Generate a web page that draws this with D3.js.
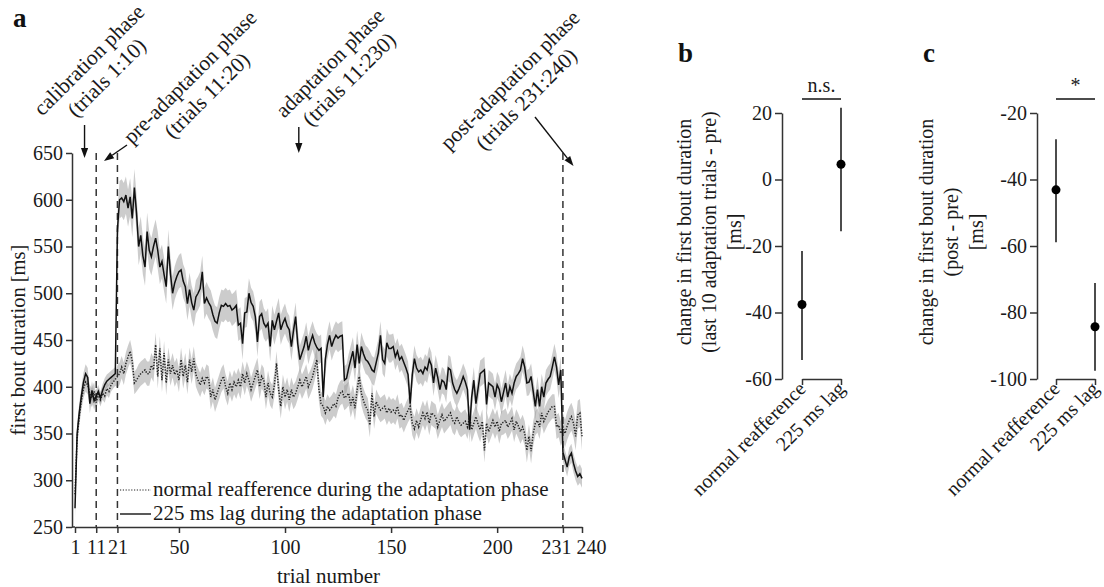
<!DOCTYPE html>
<html><head><meta charset="utf-8">
<script src="https://cdn.jsdelivr.net/npm/d3@7"></script>
<style>
body{margin:0;background:#fff;}
svg text{font-family:"Liberation Serif","Times New Roman",serif;}
</style></head><body>
<svg id="chart" width="1104" height="587"></svg>
<script>
// ---------------- DATA ----------------
const trialNumbers = d3.range(1, 241);
const solidMean = [
270,350,372,390,405,414,410,382,396,385,
390,395,388,396,402,406,408,410,412,414,
568,600,602,598,605,591,603,580,613,586,
550,562,540,528,566,546,539,550,559,546,
528,534,520,507,550,521,500,511,518,523,
525,513,507,489,504,490,482,496,500,505,
523,489,495,490,486,477,470,468,479,487,
486,489,486,487,482,484,487,466,468,446,
479,480,500,490,486,475,448,475,478,468,
464,468,443,471,461,470,479,461,468,473,
465,461,443,460,475,446,429,436,443,454,
439,448,455,447,442,439,441,389,429,445,
455,443,450,455,452,454,455,407,409,420,
429,438,420,445,425,443,435,429,427,423,
418,416,426,436,455,429,425,447,441,441,
443,432,438,429,432,426,420,413,382,413,
430,420,416,418,414,421,418,429,423,404,
420,410,397,407,405,397,420,418,404,397,
393,398,404,411,405,397,354,389,407,382,
398,414,416,418,381,404,402,400,389,402,
397,384,394,404,389,400,393,404,411,414,
418,430,421,404,405,411,395,379,397,379,
400,389,404,408,411,421,432,421,402,418,
330,322,314,325,329,318,310,304,307,302];
const dottedMean = [
285,345,368,385,398,405,402,392,388,395,
383,392,386,393,390,398,395,402,405,408,
411,414,421,414,425,432,438,427,404,407,
411,414,416,418,414,414,423,418,445,411,
441,407,436,404,429,414,423,413,418,407,
429,411,423,405,429,416,430,413,407,402,
409,404,411,409,389,397,386,393,400,407,
411,400,393,404,397,405,400,407,400,414,
404,414,407,397,404,411,418,400,411,407,
389,404,393,389,402,425,397,379,400,389,
397,386,397,389,393,400,407,400,405,411,
400,405,411,420,429,397,382,379,372,379,
375,378,382,379,388,393,395,388,390,393,
380,389,377,397,411,393,385,379,375,359,
393,368,384,379,375,377,379,372,377,373,
375,372,379,368,370,364,370,375,379,361,
355,364,357,365,372,366,373,361,372,370,
368,357,364,370,363,366,369,372,364,361,
368,362,359,361,363,357,368,354,361,368,
360,354,363,332,361,352,358,364,357,363,
352,361,362,364,357,361,366,354,363,358,
352,357,350,332,347,331,350,361,364,357,
372,363,368,373,376,379,379,357,359,350,
357,350,358,364,368,361,347,370,372,347];
// standard error read per block of 10 trials
const solidSemBlock  = [10,7,20,20,18,18,17,17,16,16,15,15,15,15,15,14,14,14,14,14,14,14,14,10];
const dottedSemBlock = [10,7,12,13,13,13,13,13,13,13,13,13,13,13,13,13,13,13,13,13,13,13,13,15];

const xTickValues = [1, 11, 21, 50, 100, 150, 200, 231, 240];
const yTickValues = [250, 300, 350, 400, 450, 500, 550, 600, 650];
const phaseBoundaries = [11, 21, 231];
const phaseNames  = ["calibration phase", "pre-adaptation phase", "adaptation phase", "post-adaptation phase"];
const phaseRanges = ["(trials 1:10)", "(trials 11:20)", "(trials 11:230)", "(trials 231:240)"];
const legendLabels = ["normal reafference during the adaptation phase", "225 ms lag during the adaptation phase"];

const categories = ["normal reafference", "225 ms lag"];
const bMean = [-37.6, 4.6];
const bLow  = [-54.3, -15.6];
const bHigh = [-21.5, 21.6];
const bTicks = [-60, -40, -20, 0, 20];
const bLabel = ["change in first bout duration", "(last 10 adaptation trials - pre)", "[ms]"];
const bSig = "n.s.";
const cMean = [-43.1, -84.3];
const cLow  = [-58.9, -97.5];
const cHigh = [-27.9, -71.1];
const cTicks = [-100, -80, -60, -40, -20];
const cLabel = ["change in first bout duration", "(post - pre)", "[ms]"];
const cSig = "*";

// ---------------- DRAW ----------------
const FONT = '"Liberation Serif","Times New Roman",serif';
const AX = "#333", TXT = "#1a1a1a", FS = 20, FS_BIG = 21.5;
const svg = d3.select("#chart");

function styleAxis(g) {
  g.attr("font-family", FONT).attr("font-size", FS);
  g.selectAll("path.domain, .tick line").attr("stroke", AX).attr("stroke-width", 1.5);
  g.selectAll(".tick text").attr("fill", TXT);
}
function arrow(g, x1, y1, x2, y2) {
  const a = Math.atan2(y2 - y1, x2 - x1), L = 10, W = 3.6;
  const bx = x2 - L * Math.cos(a), by = y2 - L * Math.sin(a);
  g.append("line").attr("x1", x1).attr("y1", y1).attr("x2", bx).attr("y2", by)
    .attr("stroke", "#111").attr("stroke-width", 1.4);
  g.append("path").attr("d", `M${x2},${y2}L${bx - W*Math.sin(a)},${by + W*Math.cos(a)}L${bx + W*Math.sin(a)},${by - W*Math.cos(a)}Z`)
    .attr("fill", "#111");
}

// ---- panel a ----
const gA = svg.append("g");
const x = d3.scaleLinear().domain([1, 240]).range([75, 582]);
const y = d3.scaleLinear().domain([250, 650]).range([527, 153]);

const solid  = trialNumbers.map((t, i) => ({t, m: solidMean[i],  s: solidSemBlock[Math.floor(i / 10)]}));
const dotted = trialNumbers.map((t, i) => ({t, m: dottedMean[i], s: dottedSemBlock[Math.floor(i / 10)]}));
const area = d3.area().x(d => x(d.t)).y0(d => y(d.m - d.s)).y1(d => y(d.m + d.s));
const line = d3.line().x(d => x(d.t)).y(d => y(d.m));

gA.append("path").datum(dotted).attr("d", area).attr("fill", "#999").attr("fill-opacity", 0.5);
gA.append("path").datum(solid).attr("d", area).attr("fill", "#999").attr("fill-opacity", 0.5);

gA.selectAll("line.phase").data(phaseBoundaries).join("line").attr("class", "phase")
  .attr("x1", d => x(d)).attr("x2", d => x(d)).attr("y1", y(650)).attr("y2", y(250))
  .attr("stroke", "#333").attr("stroke-width", 1.5).attr("stroke-dasharray", "7,5");

gA.append("path").datum(dotted).attr("d", line).attr("fill", "none")
  .attr("stroke", "#222").attr("stroke-width", 1.5).attr("stroke-dasharray", "1.3,1.5");
gA.append("path").datum(solid).attr("d", line).attr("fill", "none")
  .attr("stroke", "#111").attr("stroke-width", 1.5);

const yAx = gA.append("g").attr("transform", "translate(72,0)")
  .call(d3.axisLeft(y).tickValues(yTickValues).tickSize(6).tickPadding(3).tickSizeOuter(0).tickFormat(d => d));
styleAxis(yAx);
const xAx = gA.append("g").attr("transform", `translate(0,${y(250)})`)
  .call(d3.axisBottom(x).tickValues(xTickValues).tickSize(6).tickPadding(7).tickSizeOuter(0).tickFormat(d => d));
styleAxis(xAx);
// nudge the two crowded labels apart, as in the reference
xAx.selectAll(".tick text").attr("dx", d => d === 231 ? -7 : d === 240 ? 9 : 0);
gA.append("line").attr("x1", 72).attr("x2", x(1)).attr("y1", y(250)).attr("y2", y(250)).attr("stroke", AX).attr("stroke-width", 1.5);

gA.append("text").attr("transform", `translate(25,${y(450)}) rotate(-90)`).attr("text-anchor", "middle")
  .attr("font-size", 20.5).attr("fill", TXT).text("first bout duration [ms]");
gA.append("text").attr("x", (x(1) + x(240)) / 2).attr("y", 583).attr("text-anchor", "middle")
  .attr("font-size", 21).attr("fill", TXT).text("trial number");
svg.append("text").attr("x", 13).attr("y", 27).attr("font-size", 27).attr("font-weight", "bold").attr("fill", "#111").text("a");

// legend
const legY = [489, 513];
[0, 1].forEach(i => {
  gA.append("line").attr("x1", 120).attr("x2", 151).attr("y1", legY[i] + 1).attr("y2", legY[i] + 1)
    .attr("stroke", "#222").attr("stroke-width", i ? 1.5 : 1.2).attr("stroke-dasharray", i ? null : "1.2,1.6");
  gA.append("text").attr("x", 153).attr("y", legY[i] + 7).attr("font-size", 21).attr("fill", TXT).text(legendLabels[i]);
});

// phase annotations
const annPos = [[94, 65, 0], [195, 82, -1], [335, 68, 2], [515, 85, -2]];
annPos.forEach((p, i) => {
  const g = gA.append("g").attr("transform", `translate(${p[0]},${p[1]}) rotate(-45)`)
    .attr("font-size", FS_BIG).attr("fill", TXT).attr("text-anchor", "middle");
  g.append("text").attr("x", 0).attr("y", 0).text(phaseNames[i]);
  g.append("text").attr("x", p[2]).attr("y", 25).text(phaseRanges[i]);
});
arrow(gA, x(5.5), 125, x(5.5), 158);
arrow(gA, 127, 145, 104, 161);
arrow(gA, x(106.5), 127, x(106.5), 153);
arrow(gA, 535, 117, x(236), 166);

// ---- panels b & c ----
function dotPanel(ax, cx0, cx1, domain, ticks, mean, lo, hi, label, labelX, sig, letter, letterX) {
  const g = svg.append("g");
  const yy = d3.scaleLinear().domain(domain).range([379, 113]);
  const xx = d3.scalePoint().domain(categories).range([cx0, cx1]);
  const ya = g.append("g").attr("transform", `translate(${ax},0)`)
    .call(d3.axisLeft(yy).tickValues(ticks).tickSize(7).tickPadding(3).tickSizeOuter(0).tickFormat(d => String(d)));
  styleAxis(ya);
  // category bracket axis
  const xa = g.append("g").attr("transform", `translate(0,${yy(domain[0])})`)
    .call(d3.axisBottom(xx).tickSize(6).tickSizeOuter(0).tickFormat(""));
  styleAxis(xa);
  categories.forEach((c, i) => {
    g.append("text").attr("transform", `translate(${xx(c) + 5},390) rotate(-45)`)
      .attr("text-anchor", "end").attr("font-size", FS).attr("fill", TXT).text(c);
    g.append("line").attr("x1", xx(c)).attr("x2", xx(c)).attr("y1", yy(lo[i])).attr("y2", yy(hi[i]))
      .attr("stroke", "#111").attr("stroke-width", 1.5);
    g.append("circle").attr("cx", xx(c)).attr("cy", yy(mean[i])).attr("r", 4.5).attr("fill", "#000");
  });
  g.append("line").attr("x1", cx0).attr("x2", cx1).attr("y1", 99).attr("y2", 99).attr("stroke", "#111").attr("stroke-width", 1.5);
  g.append("text").attr("x", (cx0 + cx1) / 2).attr("y", 92).attr("text-anchor", "middle")
    .attr("font-size", FS).attr("fill", TXT).text(sig);
  label.forEach((t, i) => {
    g.append("text").attr("transform", `translate(${labelX + 25 * i},232) rotate(-90)`)
      .attr("text-anchor", "middle").attr("font-size", FS).attr("fill", TXT).text(t);
  });
  svg.append("text").attr("x", letterX).attr("y", 62).attr("font-size", 27).attr("font-weight", "bold").attr("fill", "#111").text(letter);
}
dotPanel(782, 802, 841, [-60, 20], bTicks, bMean, bLow, bHigh, bLabel, 691, bSig, "b", 678);
dotPanel(1037, 1056, 1095, [-100, -20], cTicks, cMean, cLow, cHigh, cLabel, 933, cSig, "c", 923);
</script>
</body></html>
